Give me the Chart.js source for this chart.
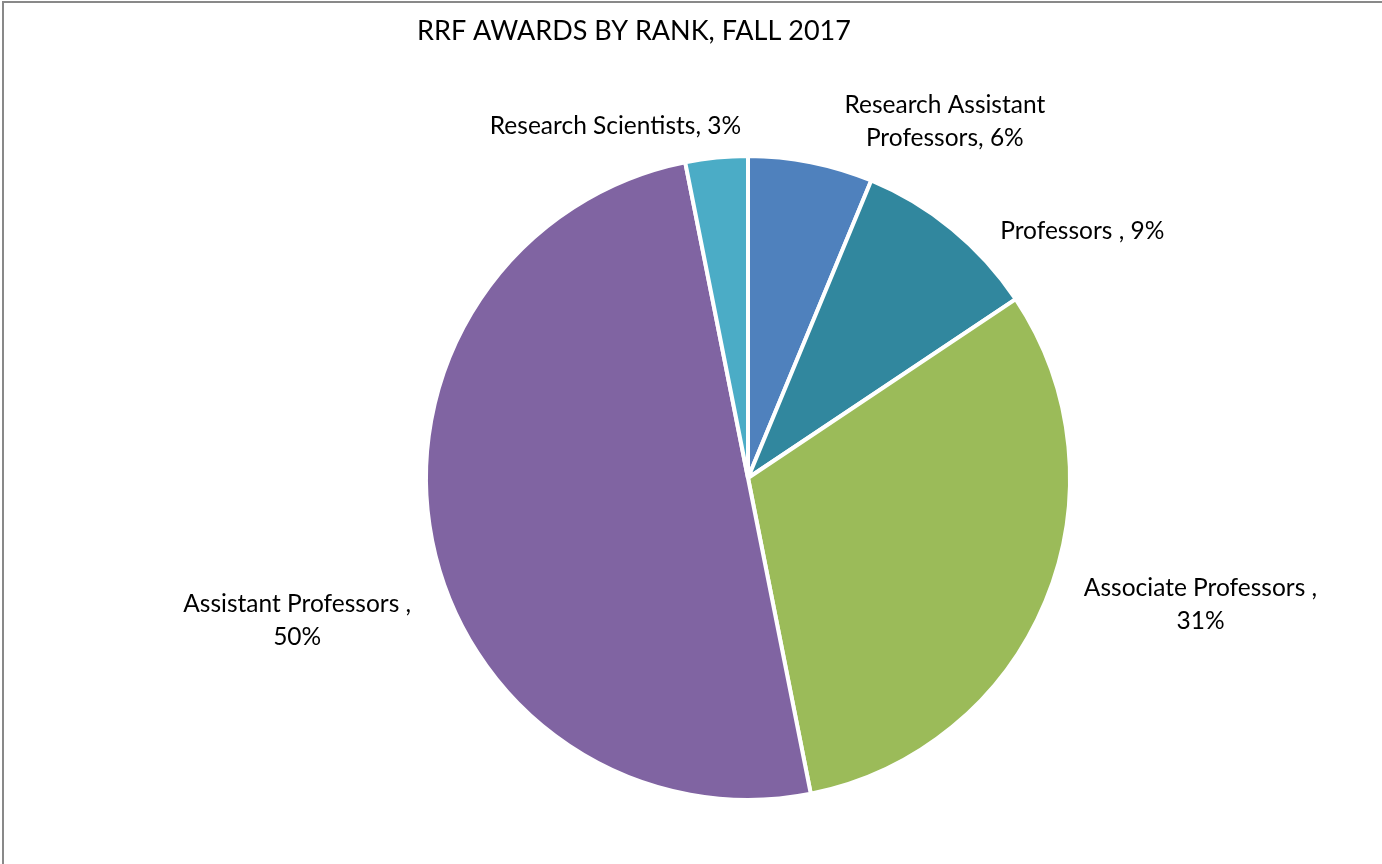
<!DOCTYPE html>
<html lang="en">
<head>
    <meta charset="UTF-8">
    <title>RRF Awards by Rank, Fall 2017</title>
    <script src="https://cdn.jsdelivr.net/npm/chart.js"></script>
    <style>
        html, body {
            margin: 0;
            padding: 0;
            background: #ffffff;
            overflow: hidden;
        }
        .frame {
            position: absolute;
            left: 2px;
            top: 1px;
            width: 1400px;
            height: 900px;
            border-left: 2px solid #898989;
            border-top: 2px solid #898989;
        }
        .chart-box {
            position: absolute;
            left: 0;
            top: 0;
            width: 1382px;
            height: 864px;
        }
    </style>
</head>
<body>
    <div class="frame"></div>
    <div class="chart-box">
        <canvas id="rankChart"></canvas>
    </div>

<script>
    // Award counts per rank (slices run clockwise from 12 o'clock)
    const categories = ['Research Assistant Professors', 'Professors ', 'Associate Professors ', 'Assistant Professors ', 'Research Scientists'];
    const awards = [2, 3, 10, 16, 1];
    const sliceColors = ['#4f81bd', '#31879e', '#9bbb59', '#8064a2', '#4bacc6'];
    const titleText = 'RRF AWARDS BY RANK, FALL 2017';

    // label lines, split the way the original wraps them
    const labelLines = [
        ['Research Assistant', 'Professors, 6%'],
        ['Professors , 9%'],
        ['Associate Professors ,', '31%'],
        ['Assistant Professors ,', '50%'],
        ['Research Scientists, 3%']
    ];
    // nudges from the slice's outer mid point to the label centre
    const labelNudge = [[134, -41], [130, 2], [155, 3], [-135, 80], [-101, -31]];

    const FONT = 'Lato, "Open Sans", sans-serif';

    const labelPlugin = {
        id: 'sliceLabels',
        afterDraw(chart) {
            const ctx = chart.ctx;
            ctx.save();
            ctx.fillStyle = '#000000';
            ctx.textAlign = 'center';
            ctx.textBaseline = 'middle';

            ctx.font = '27px ' + FONT;
            ctx.fillText(titleText, 634, 31);

            ctx.font = '24.5px ' + FONT;
            const arcs = chart.getDatasetMeta(0).data;
            arcs.forEach((arc, i) => {
                const mid = (arc.startAngle + arc.endAngle) / 2;
                const px = arc.x + Math.cos(mid) * arc.outerRadius + labelNudge[i][0];
                const py = arc.y + Math.sin(mid) * arc.outerRadius + labelNudge[i][1];
                const lines = labelLines[i];
                const lh = 33;
                lines.forEach((t, k) => {
                    ctx.fillText(t, px, py + (k - (lines.length - 1) / 2) * lh);
                });
            });
            ctx.restore();
        }
    };

    new Chart(document.getElementById('rankChart'), {
        type: 'pie',
        data: {
            labels: categories,
            datasets: [{
                data: awards,
                backgroundColor: sliceColors,
                borderColor: '#ffffff',
                borderWidth: 4
            }]
        },
        options: {
            responsive: true,
            maintainAspectRatio: false,
            animation: false,
            radius: 322,
            layout: {
                padding: { left: 214, right: 100, top: 112, bottom: 20 }
            },
            plugins: {
                legend: { display: false },
                tooltip: { enabled: false },
                title: { display: false }
            }
        },
        plugins: [labelPlugin]
    });
</script>
</body>
</html>
